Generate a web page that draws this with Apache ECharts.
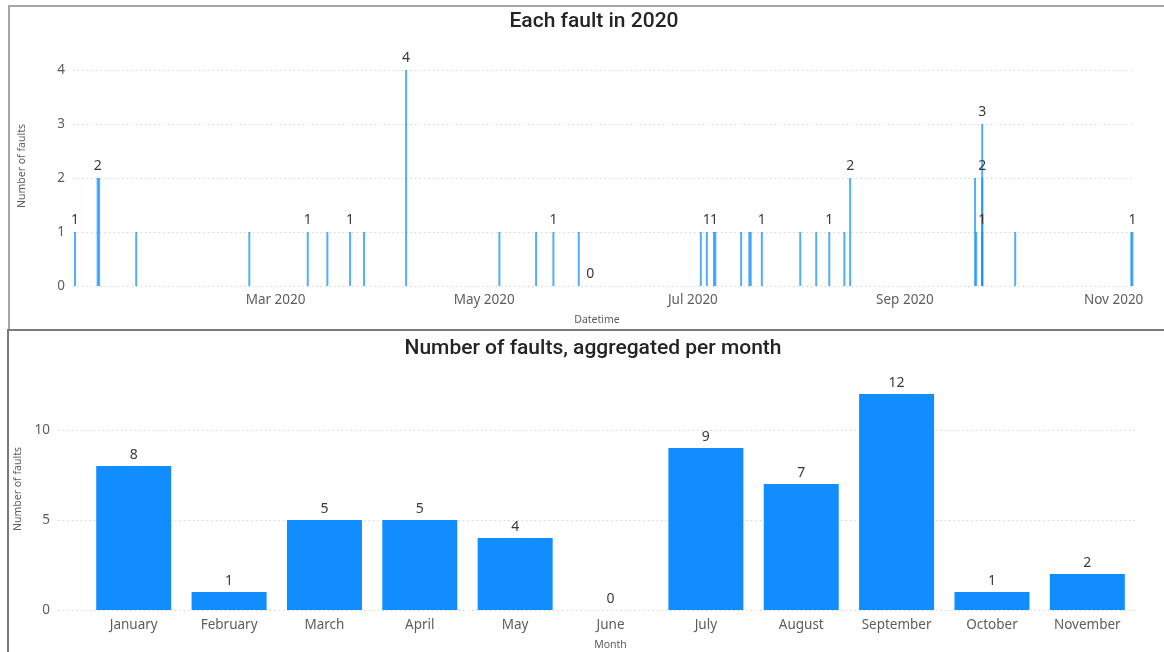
<!DOCTYPE html>
<html>
<head>
<meta charset="utf-8">
<title>Faults in 2020</title>
<script src="https://cdn.jsdelivr.net/npm/echarts@6/dist/echarts.min.js"></script>
<style>
  html, body { margin: 0; padding: 0; background: #fff; }
  #chart { width: 1164px; height: 652px; }
</style>
</head>
<body>
<div id="chart"></div>
<script>
// Individual faults: timestamp and number of faults at that moment
const faultTimes = [
  '2020-01-02 09:00', '2020-01-09 00:00', '2020-01-09 10:00', '2020-01-20 06:30',
  '2020-02-22 08:00',
  '2020-03-10 10:00', '2020-03-16 03:30', '2020-03-22 19:00', '2020-03-26 21:00',
  '2020-04-08 04:00',
  '2020-05-05 10:30', '2020-05-16 04:00', '2020-05-21 05:30', '2020-05-28 15:30',
  '2020-06-01 00:00',
  '2020-07-03 08:00', '2020-07-05 02:00', '2020-07-07 04:00', '2020-07-07 14:00',
  '2020-07-15 02:30', '2020-07-17 12:00', '2020-07-17 22:00', '2020-07-21 04:00',
  '2020-08-01 09:30', '2020-08-06 01:30', '2020-08-09 21:00', '2020-08-14 07:00',
  '2020-08-15 23:30',
  '2020-09-21 12:00', '2020-09-21 20:00', '2020-09-23 14:00', '2020-09-23 14:00',
  '2020-09-23 14:00',
  '2020-10-03 05:30',
  '2020-11-06 04:00', '2020-11-06 12:00'
];
const faultCounts = [
  1, 2, 2, 1,
  1,
  1, 1, 1, 1,
  4,
  1, 1, 1, 1,
  0,
  1, 1, 1, 1,
  1, 1, 1, 1,
  1, 1, 1, 1,
  2,
  2, 1, 3, 2,
  1,
  1,
  1, 1
];
// Faults whose value is printed above the bar
const labelledFaults = [0, 1, 5, 7, 9, 12, 14, 16, 17, 22, 25, 27, 30, 31, 32, 35];

// Datetime axis range and tick dates
const timeRange = ['2020-01-01 19:00', '2020-11-06 16:00'];
const dateTicks = ['2020-03-01 00:00', '2020-05-01 00:00', '2020-07-01 00:00', '2020-09-01 00:00', '2020-11-01 00:00'];
const monthAbbr = ['Jan', 'Feb', 'Mar', 'Apr', 'May', 'Jun', 'Jul', 'Aug', 'Sep', 'Oct', 'Nov', 'Dec'];

// Faults per month
const months = ['January', 'February', 'March', 'April', 'May', 'June', 'July', 'August', 'September', 'October', 'November'];
const monthlyFaults = [8, 1, 5, 5, 4, 0, 9, 7, 12, 1, 2];

const ts = s => new Date(s.replace(' ', 'T')).getTime();

const blue = '#118DFF';
const tickColor = '#5f5d5b';
const textColor = '#3b3a39';
const gridStyle = { color: '#d4d4d4', type: [1.5, 3], width: 1 };
const font = 'Noto Sans, Open Sans, sans-serif';
const titleStyle = { fontFamily: 'Roboto, sans-serif', fontSize: 21, fontWeight: 500, color: '#252423' };

const faultData = faultTimes.map((t, i) => {
  const item = { value: [ts(t), faultCounts[i]] };
  if (labelledFaults.indexOf(i) >= 0) item.label = { show: true };
  return item;
});

const chart = echarts.init(document.getElementById('chart'), null, { renderer: 'canvas' });

chart.setOption({
  animation: false,
  textStyle: { fontFamily: font },
  title: [
    { text: 'Each fault in 2020', left: 589, top: 6, textAlign: 'center', textStyle: titleStyle },
    { text: 'Number of faults, aggregated per month', left: 588, top: 333, textAlign: 'center', textStyle: titleStyle }
  ],
  graphic: [
    { type: 'rect', shape: { x: 9, y: 6, width: 1170, height: 324 }, style: { fill: 'none', stroke: '#a6a6a6', lineWidth: 2 }, z: 100 },
    { type: 'rect', shape: { x: 8, y: 330, width: 1170, height: 340 }, style: { fill: 'none', stroke: '#7a7a7a', lineWidth: 2 }, z: 100 }
  ],
  grid: [
    { left: 73, right: 31, top: 70, height: 216, outerBoundsMode: 'none' },
    { left: 58, right: 29, top: 376, height: 234, outerBoundsMode: 'none' }
  ],
  xAxis: [
    {
      // timestamps on a linear axis, labelled at the first day of every other month
      type: 'value', gridIndex: 0,
      min: ts(timeRange[0]), max: ts(timeRange[1]),
      name: 'Datetime', nameLocation: 'middle', nameGap: 29,
      nameTextStyle: { fontSize: 10.5, color: tickColor, padding: [0, 12, 0, 0] },
      axisLine: { show: false }, axisTick: { show: false }, splitLine: { show: false },
      axisLabel: {
        customValues: dateTicks.map(ts),
        color: tickColor, fontSize: 13.5, margin: 7,
        formatter: v => { const d = new Date(v); return monthAbbr[d.getMonth()] + ' ' + d.getFullYear(); }
      }
    },
    {
      type: 'value', gridIndex: 1,
      min: -0.794, max: 10.5,
      name: 'Month', nameLocation: 'middle', nameGap: 30,
      nameTextStyle: { fontSize: 10.5, color: tickColor, padding: [0, 0, 0, 28] },
      axisLine: { show: false }, axisTick: { show: false }, splitLine: { show: false },
      axisLabel: {
        customValues: months.map((m, i) => i),
        color: tickColor, fontSize: 13.5, margin: 8,
        formatter: v => months[Math.round(v)]
      }
    }
  ],
  yAxis: [
    {
      type: 'value', gridIndex: 0, min: 0, max: 4, interval: 1,
      name: 'Number of faults', nameLocation: 'middle', nameGap: 45, nameRotate: 90,
      nameTextStyle: { fontSize: 10.5, color: tickColor, padding: [0, 0, 0, 24] },
      axisLine: { show: false }, axisTick: { show: false },
      axisLabel: { color: tickColor, fontSize: 13.5, margin: 8 },
      splitLine: { show: true, lineStyle: gridStyle }
    },
    {
      type: 'value', gridIndex: 1, min: 0, max: 13, interval: 5,
      name: 'Number of faults', nameLocation: 'middle', nameGap: 28, nameRotate: 90,
      nameTextStyle: { fontSize: 10.5, color: tickColor, padding: [0, 0, 0, 8] },
      axisLine: { show: false }, axisTick: { show: false },
      axisLabel: { color: tickColor, fontSize: 13.5, margin: 8, showMaxLabel: false },
      splitLine: { show: true, showMaxLine: false, lineStyle: gridStyle }
    }
  ],
  series: [
    {
      type: 'bar', xAxisIndex: 0, yAxisIndex: 0,
      data: faultData,
      barWidth: 2,
      itemStyle: { color: blue, opacity: 0.72 },
      label: { show: false, position: 'top', distance: 5, color: textColor, fontSize: 14, opacity: 1 }
    },
    {
      type: 'bar', xAxisIndex: 1, yAxisIndex: 1,
      data: monthlyFaults.map((v, i) => [i, v]),
      barWidth: 75,
      itemStyle: { color: blue },
      label: { show: true, position: 'top', distance: 4, color: textColor, fontSize: 14 }
    }
  ]
});
</script>
</body>
</html>
